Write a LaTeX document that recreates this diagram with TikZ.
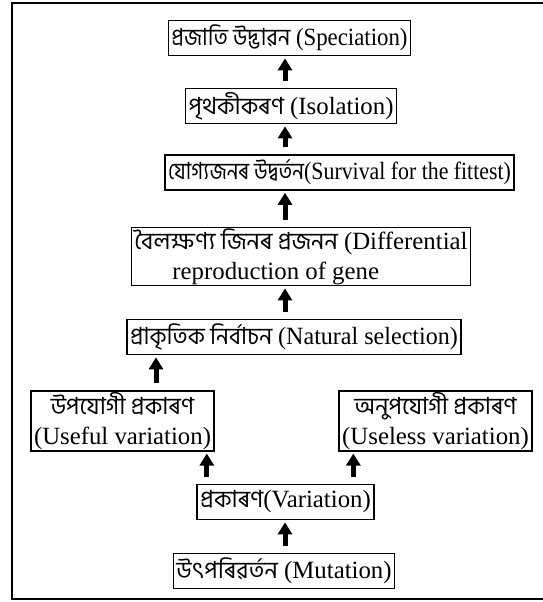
\documentclass[tikz,border=0pt]{standalone}
\usepackage{fontspec}
\usepackage{graphicx}
\setmainfont{Liberation Serif}
\newfontfamily\bn[Script=Bengali,Scale=0.95]{Hind Siliguri}
\usetikzlibrary{arrows.meta}
\newcommand\squeezed[2]{\scalebox{#1}[1]{#2}}
\tikzset{
  box/.style={draw, line width=1.7pt, inner xsep=3pt, inner ysep=1pt,
    minimum height=35pt, align=center, font=\fontsize{24.8}{30}\selectfont},
  arw/.style={-{Triangle[width=14pt,length=12pt]}, line width=5pt,
    shorten >=2pt, shorten <=7pt}
}
\begin{document}
\begin{tikzpicture}[x=1pt, y=-1pt]
        \useasboundingbox (0,0) rectangle (543,602);
        \draw[line width=2pt] (12,3) rectangle (560,599);

        \node [box] (Speciation) at (289.5, 38) {\squeezed{0.92}{{\bn প্ৰজাতি উদ্ভাৱন} (Speciation)}};
        \node [box] (Isolation) at (291, 106) {{\bn পৃথকীকৰণ} (Isolation)};
        \node [box] (Survival) at (339.5, 172.5) {\squeezed{0.88}{{\bn যোগ্যজনৰ উদ্বৰ্তন}(Survival for the fittest)}};
        \node [box, align=left] (Differential) at (301, 256.5) {{\bn বৈলক্ষণ্য জিনৰ প্ৰজনন} (Differential\\\hspace*{38pt}reproduction of gene};
        \node [box] (Natural) at (294, 337) {\squeezed{0.97}{{\bn প্ৰাকৃতিক নিৰ্বাচন} (Natural selection)}};
        \node [box] (Useful) at (122.5, 421) {{\bn উপযোগী প্ৰকাৰণ}\\(Useful variation)};
        \node [box] (Useless) at (435.5, 421) {{\bn অনুপযোগী প্ৰকাৰণ}\\(Useless variation)};
        \node [box] (Variation) at (285.5, 502) {{\bn প্ৰকাৰণ}(Variation)};
        \node [box] (Mutation) at (284, 571) {{\bn উৎপৰিৱৰ্তন} (Mutation)};

        % Arrow ends
        \coordinate (mid) at (285, 0);
        \coordinate (toNatural) at ([xshift=33.5pt]Useful.north);
        \coordinate (toUseful) at ([xshift=-8pt]Useful.south east);
        \coordinate (toUseless) at ([xshift=15pt]Useless.south west);

        % Arrows
        \draw[arw] (Isolation.north -| mid) -- (Speciation.south -| mid);
        \draw[arw] (Survival.north -| mid) -- (Isolation.south -| mid);
        \draw[arw] (Differential.north -| mid) -- (Survival.south -| mid);
        \draw[arw] (Natural.north -| mid) -- (Differential.south -| mid);
        \draw[arw] (toNatural) -- (Natural.south -| toNatural);
        \draw[arw] (Variation.north -| toUseful) -- (toUseful);
        \draw[arw] (Variation.north -| toUseless) -- (toUseless);
        \draw[arw] (Mutation.north -| mid) -- (Variation.south -| mid);
\end{tikzpicture}
\end{document}
